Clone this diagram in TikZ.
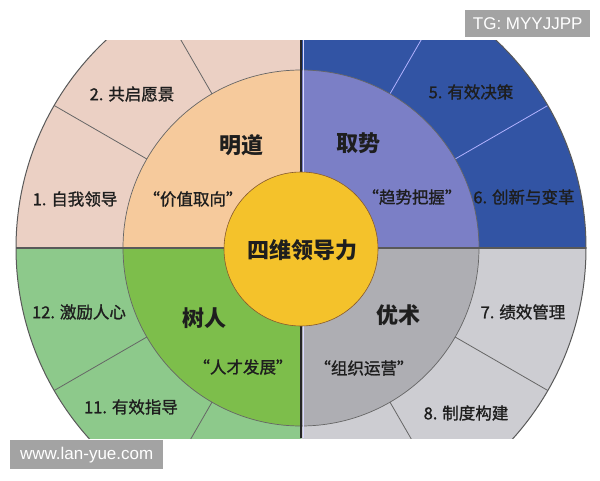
\documentclass[tikz,border=0pt]{standalone}
\usepackage{fontspec}
\setmainfont{Liberation Sans}
\newfontfamily\cjk{Noto Sans CJK SC}
\newfontfamily\cjkmid[FakeBold=1.2]{Noto Sans CJK SC}
\usetikzlibrary{positioning, calc}

\definecolor{pinkO}{HTML}{EBD0C4}
\definecolor{pinkI}{HTML}{F6CA9C}
\definecolor{blueO}{HTML}{3254A4}
\definecolor{blueI}{HTML}{7B7FC6}
\definecolor{grayO}{HTML}{CDCDD2}
\definecolor{grayI}{HTML}{AEAEB3}
\definecolor{greenO}{HTML}{8DC98B}
\definecolor{greenI}{HTML}{7DBE4B}
\definecolor{coreY}{HTML}{F4C22B}
\definecolor{txt}{HTML}{1E1E1E}

\begin{document}
\begin{tikzpicture}[x=1pt, y=-1pt]
\tikzset{
  item/.style={font=\cjkmid\fontsize{16.5}{16.5}\selectfont, text=txt, inner sep=0pt},
  motto/.style={font=\cjkmid\fontsize{16.5}{16.5}\selectfont, text=txt, inner sep=0pt},
  head/.style={font=\cjk\bfseries\fontsize{22}{22}\selectfont, text=txt, inner sep=0pt},
  sep/.style={draw=black!60, line width=0.8pt},
  wmark/.style={fill=black!36, text=white, font=\fontsize{17}{17}\selectfont, inner sep=0pt, anchor=north west}
}
\useasboundingbox (0,0) rectangle (600,480);

\coordinate (o) at (301,248);

% the wheel, cut at top and bottom
\begin{scope}
\clip (0,40) rectangle (600,438);
\foreach \sa/\co/\ci in {-180/pinkO/pinkI, -90/blueO/blueI, 0/grayO/grayI, 90/greenO/greenI}{
  \fill[\co] (o) -- ++(\sa:285) arc[start angle=\sa, delta angle=90, radius=285] -- cycle;
  \fill[\ci] (o) -- ++(\sa:178) arc[start angle=\sa, delta angle=90, radius=178] -- cycle;
}
\foreach \t in {-150,-120,30,60,120,150}
  \draw[sep] ($(o)+(\t:178)$) -- ($(o)+(\t:285)$);
\foreach \t in {-60,-30}
  \draw[sep, draw=blue!30!white] ($(o)+(\t:178)$) -- ($(o)+(\t:285)$);
\draw[black!65, line width=1pt] (o) circle[radius=285];
\draw[black!60, line width=0.7pt] (o) circle[radius=178];
% cross
\draw[black!65, line width=1.8pt] ($(o)+(-285,0)$) -- ($(o)+(285,0)$);
\draw[white!85!blue, line width=1pt] (303.2,40) -- (303.2,438);
\draw[black!85, line width=1.4pt] (301,40) -- (301,438);
\end{scope}

% centre
\node[circle, fill=coreY, draw=brown!70!black, line width=0.6pt, minimum size=154pt, inner sep=0pt] (core) at (301,249) {};
\node[head] (title) at (302,250) {四维领导力};

% inner ring
\node[head] (md) at (241,145) {明道};
\node[head] (qs) at (358,143) {取势};
\node[head] (sr) at (204,318) {树人};
\node[head] (ys) at (398,315) {优术};
\node[motto] (mdq) at (193,199) {“价值取向”};
\node[motto] (qsq) at (412,197) {“趋势把握”};
\node[motto] (srq) at (243,367) {“人才发展”};
\node[motto] (ysq) at (364,368) {“组织运营”};

% outer ring
\node[item] (i1) at (75,199) {1. 自我领导};
\node[item] (i2) at (132,94) {2. 共启愿景};
\node[item] (i5) at (471,92) {5. 有效决策};
\node[item] (i6) at (524,197) {6. 创新与变革};
\node[item] (i7) at (523,312) {7. 绩效管理};
\node[item] (i8) at (466,413) {8. 制度构建};
\node[item] (i11) at (131,407) {11. 有效指导};
\node[item] (i12) at (79,312) {12. 激励人心};

% watermarks
\node[wmark, minimum width=125pt, minimum height=27pt] (tg) at (465,10) {TG: MYYJJPP};
\node[wmark, minimum width=153pt, minimum height=29pt] (web) at (10,440) {www.lan-yue.com};

\end{tikzpicture}
\end{document}
